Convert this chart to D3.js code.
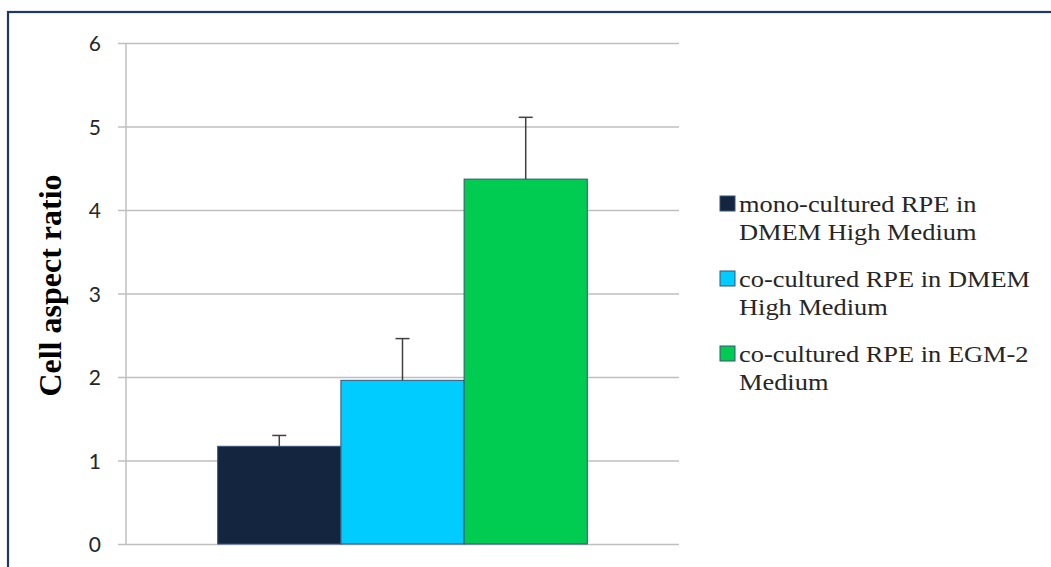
<!DOCTYPE html>
<html>
<head>
<meta charset="utf-8">
<script src="https://cdn.jsdelivr.net/npm/d3@7/dist/d3.min.js"></script>
<style>
  html, body { margin: 0; padding: 0; background: #fff; }
  svg { display: block; }
</style>
</head>
<body>
<svg id="chart" width="1051" height="567"></svg>
<script>
// Cell aspect ratio per culture condition (mean and standard deviation)
const seriesNames = [
  ["mono-cultured RPE in", "DMEM High Medium"],
  ["co-cultured RPE in DMEM", "High Medium"],
  ["co-cultured RPE in EGM-2", "Medium"]
];
const seriesKeys = ["mono", "coDMEM", "coEGM"];
const means = [1.17, 1.96, 4.37];
const errors = [0.13, 0.50, 0.74];
const colors = ["#13253f", "#00ccff", "#00cc52"];
const yTicks = [0, 1, 2, 3, 4, 5, 6];
const categories = [""];

const svg = d3.select("#chart");
const W = 1051, H = 567;

// Outer frame
svg.append("rect")
  .attr("x", 8).attr("y", 12)
  .attr("width", W + 40).attr("height", H + 40)
  .attr("fill", "#fff")
  .attr("stroke", "#1f3864")
  .attr("stroke-width", 2.2);

const plot = { left: 126, right: 679, top: 43, bottom: 544 };

const y = d3.scaleLinear().domain([0, 6]).range([plot.bottom, plot.top]);

const x0 = d3.scaleBand()
  .domain(categories)
  .range([plot.left, plot.right])
  .paddingInner(0)
  .paddingOuter(0.248);

const x1 = d3.scaleBand()
  .domain(seriesKeys)
  .range([0, x0.bandwidth()])
  .padding(0);

// Gridlines with ticks on the left
const yAxis = d3.axisLeft(y)
  .tickValues(yTicks)
  .tickSize(-(plot.right - plot.left))
  .tickSizeOuter(0)
  .tickPadding(25)
  .tickFormat(d3.format("d"));

const gAxis = svg.append("g")
  .attr("transform", `translate(${plot.left},0)`)
  .call(yAxis);
gAxis.select(".domain").remove();
gAxis.selectAll(".tick line")
  .attr("x1", -8)
  .attr("stroke", "#bfbfbf")
  .attr("stroke-width", 1.5);
gAxis.selectAll(".tick text")
  .attr("fill", "#262626")
  .style("font-family", "Lato, 'Open Sans', sans-serif")
  .style("font-size", "21px")
  .attr("dy", "0.36em");

// Vertical axis line
svg.append("line")
  .attr("x1", plot.left).attr("x2", plot.left)
  .attr("y1", y(6)).attr("y2", y(0))
  .attr("stroke", "#bfbfbf")
  .attr("stroke-width", 1.5);

// Bars
const data = seriesKeys.map((k, i) => ({ key: k, mean: means[i], err: errors[i], color: colors[i] }));
const gBars = svg.append("g").attr("transform", `translate(${x0(categories[0])},0)`);

gBars.selectAll("rect.bar")
  .data(data)
  .join("rect")
  .attr("class", "bar")
  .attr("x", d => x1(d.key))
  .attr("y", d => y(d.mean))
  .attr("width", x1.bandwidth())
  .attr("height", d => y(0) - y(d.mean))
  .attr("fill", d => d.color)
  .attr("stroke", "#3b5374")
  .attr("stroke-width", 1);

// Error bars (upper only)
const capHalf = 7;
gBars.selectAll("line.err")
  .data(data)
  .join("line")
  .attr("class", "err")
  .attr("x1", d => x1(d.key) + x1.bandwidth() / 2)
  .attr("x2", d => x1(d.key) + x1.bandwidth() / 2)
  .attr("y1", d => y(d.mean))
  .attr("y2", d => y(d.mean + d.err))
  .attr("stroke", "#404040")
  .attr("stroke-width", 1.5);

gBars.selectAll("line.cap")
  .data(data)
  .join("line")
  .attr("class", "cap")
  .attr("x1", d => x1(d.key) + x1.bandwidth() / 2 - capHalf)
  .attr("x2", d => x1(d.key) + x1.bandwidth() / 2 + capHalf)
  .attr("y1", d => y(d.mean + d.err))
  .attr("y2", d => y(d.mean + d.err))
  .attr("stroke", "#404040")
  .attr("stroke-width", 1.5);

// Y axis title
svg.append("text")
  .attr("transform", `translate(61,${(y(0) + y(6)) / 2 - 8}) rotate(-90)`)
  .attr("text-anchor", "middle")
  .style("font-family", "'Liberation Serif', 'Times New Roman', serif")
  .style("font-weight", "bold")
  .style("font-size", "32px")
  .attr("fill", "#000")
  .text("Cell aspect ratio");

// Legend
const legend = svg.append("g").attr("transform", "translate(720,196)");
const entry = legend.selectAll("g.entry")
  .data(data)
  .join("g")
  .attr("class", "entry")
  .attr("transform", (d, i) => `translate(0,${i * 75})`);

entry.append("rect")
  .attr("width", 15).attr("height", 15)
  .attr("fill", d => d.color)
  .attr("stroke", "#3b5374")
  .attr("stroke-width", 1);

entry.each(function (d, i) {
  const t = d3.select(this).append("text")
    .attr("transform", "translate(19,15.5) scale(1.1,1)")
    .style("font-family", "'Liberation Serif', 'Times New Roman', serif")
    .style("font-size", "24px")
    .attr("fill", "#262626");
  seriesNames[i].forEach((line, j) => {
    t.append("tspan").attr("x", 0).attr("y", j * 28.5).text(line);
  });
});
</script>
</body>
</html>
